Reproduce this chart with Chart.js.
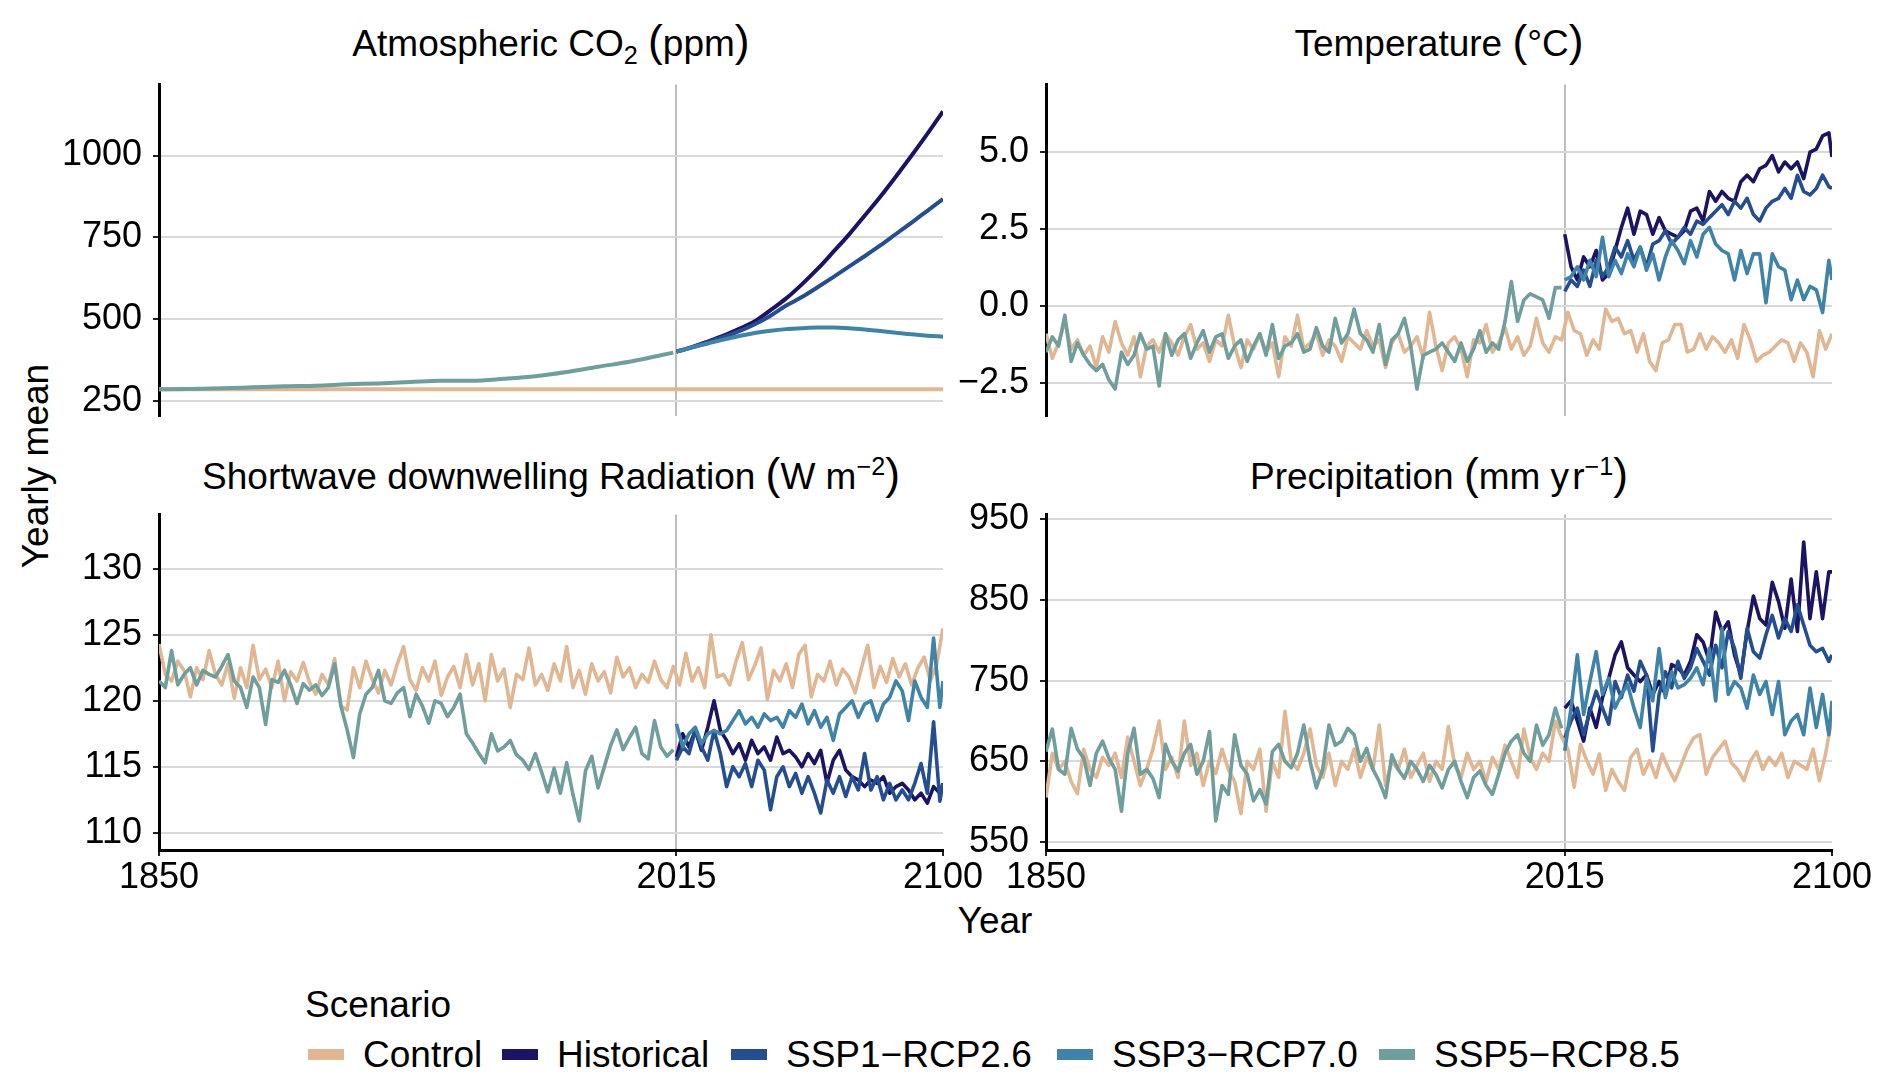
<!DOCTYPE html>
<html>
<head>
<meta charset="utf-8">
<script src="https://cdn.jsdelivr.net/npm/chart.js@4.4.1/dist/chart.umd.min.js"></script>
<style>
  html, body { margin: 0; padding: 0; background: #fff; }
  body { width: 1892px; height: 1087px; position: relative; overflow: hidden;
         font-family: "Liberation Sans", Arial, sans-serif; color: #000; }
  canvas { position: absolute; }
  .txt { position: absolute; white-space: nowrap; font-size: 37px; line-height: 1; }
  .center { transform: translate(-50%, -50%); }
  .par { font-size: 1.2em; }
  sub, sup { font-size: 0.68em; line-height: 0; }
  .key { position: absolute; width: 36px; height: 11px; }
</style>
</head>
<body>

<div class="txt center" style="left:551px; top:41px;">Atmospheric CO<sub>2</sub> <span class="par">(</span>ppm<span class="par">)</span></div>
<div class="txt center" style="left:1439px; top:41px;">Temperature <span class="par">(</span>°C<span class="par">)</span></div>
<div class="txt center" style="left:551px; top:474px;">Shortwave downwelling Radiation <span class="par">(</span>W m<sup>−2</sup><span class="par">)</span></div>
<div class="txt center" style="left:1439px; top:474px;">Precipitation <span class="par">(</span>mm y&#8202;r<sup>−1</sup><span class="par">)</span></div>

<div class="txt center" style="left:35px; top:466px; transform: translate(-50%, -50%) rotate(-90deg);">Yearly mean</div>
<div class="txt center" style="left:995px; top:920px;">Year</div>

<div class="txt" style="left:305px; top:986px;">Scenario</div>
<div id="legend"></div>

<script>
// x grid: yearly means, plotted every second year
function yearsFrom(start, end, step) {
    const out = [];
    for (let y = start; y <= end; y += step) out.push(y);
    return out;
}
const ctrlYears = yearsFrom(1850, 2100, 2);
const histYears = yearsFrom(1850, 2014, 2);
const scenYears = yearsFrom(2015, 2099, 2).concat([2100]);
const xTicks = [1850, 2015, 2100];

// Atmospheric CO2 (ppm)
const co2CtrlYears = [1850, 2100];
const co2Ctrl = [285, 285];
const co2HistYears = [1850, 1860, 1870, 1880, 1890, 1900, 1910, 1920, 1930, 1940, 1950, 1960, 1970, 1980, 1990, 2000, 2010, 2014];
const co2Hist = [285, 286, 288, 291, 294, 296, 300, 303, 307, 311, 311, 317, 325, 338, 354, 369, 389, 397];
const co2ScenYears = [2015, 2020, 2025, 2030, 2035, 2040, 2045, 2050, 2055, 2060, 2065, 2070, 2075, 2080, 2085, 2090, 2095, 2100];
const co2High = [400, 414, 431, 449, 470, 493, 527, 563, 606, 653, 705, 758, 816, 874, 936, 1000, 1066, 1135];
const co2Mid = [400, 413, 428, 445, 463, 484, 510, 541, 567, 597, 628, 660, 692, 725, 760, 795, 831, 867];
const co2Low = [400, 413, 425, 437, 448, 457, 464, 469, 472, 474, 474, 472, 468, 463, 458, 453, 449, 446];

// Temperature (°C)
const tempCtrl = [
    -0.9, -1.7, -1.2, -0.5, -1.4, -1.1, -1.6, -1.3, -2.0, -1.0,
    -1.5, -0.5, -1.2, -1.6, -1.0, -2.3, -1.3, -1.1, -1.5, -0.9,
    -1.2, -1.6, -1.0, -0.6, -1.4, -1.2, -1.8, -1.1, -1.3, -0.3,
    -1.3, -2.0, -1.1, -1.4, -0.9, -1.5, -1.2, -2.3, -1.0, -1.3,
    -0.3, -1.4, -1.2, -0.9, -1.6, -1.1, -1.3, -1.8, -1.0, -1.2,
    -1.4, -0.8, -1.3, -1.1, -2.0, -1.2, -0.9, -1.5, -1.3, -1.0,
    -1.7, -0.2, -1.3, -2.1, -1.2, -1.0, -1.4, -2.3, -1.1, -1.2,
    -0.6, -1.5, -1.2, -0.7, -1.4, -1.0, -1.6, -1.3, -0.4, -1.2,
    -1.5, -1.0, -1.1, -0.2, -0.8, -0.9, -1.6, -1.1, -1.4, -0.1,
    -0.5, -0.4, -0.9, -0.8, -1.5, -0.9, -1.8, -2.1, -1.2, -1.1,
    -0.6, -0.6, -1.5, -1.4, -0.9, -1.4, -1.0, -1.2, -1.5, -1.1,
    -1.7, -0.6, -1.1, -1.8, -1.6, -1.5, -1.3, -1.1, -1.2, -1.8,
    -1.2, -1.5, -2.3, -0.8, -1.4, -0.9
];
const tempHist = [
    -1.5, -1.0, -1.3, -0.3, -1.8, -1.2, -1.6, -1.9, -2.1, -1.9,
    -2.4, -2.7, -1.5, -1.9, -1.6, -0.9, -1.4, -1.3, -2.6, -0.9,
    -1.6, -1.1, -0.9, -1.7, -1.2, -0.8, -1.5, -1.0, -0.9, -1.7,
    -1.3, -1.1, -1.8, -1.3, -0.9, -1.6, -0.6, -1.7, -1.3, -1.2,
    -0.9, -1.5, -1.4, -0.7, -1.3, -1.5, -0.4, -1.2, -0.9, -0.1,
    -0.9, -1.1, -1.5, -0.6, -1.9, -1.1, -0.9, -0.4, -1.3, -2.7,
    -1.6, -1.5, -1.4, -1.2, -1.5, -1.8, -1.2, -1.8, -1.4, -0.8,
    -1.5, -1.2, -1.4, -0.5, 0.8, -0.5, 0.2, 0.4, 0.3, 0.2,
    -0.4, 0.6, 0.6
];
const tempHigh = [
    2.34, 1.28, 0.85, 1.60, 1.28, 1.81, 0.85, 1.06, 1.81, 2.56,
    3.19, 2.34, 3.09, 2.98, 2.34, 2.88, 2.45, 2.34, 2.24, 2.45,
    3.09, 3.19, 2.77, 3.73, 3.41, 3.73, 3.51, 3.41, 4.05, 4.26,
    4.05, 4.47, 4.58, 4.90, 4.37, 4.69, 4.47, 4.69, 4.15, 5.01,
    5.11, 5.54, 5.64, 4.85
];
const tempMid = [
    0.48, 0.85, 0.64, 1.17, 0.64, 1.49, 0.96, 1.28, 1.92, 1.60,
    2.13, 1.49, 1.92, 1.28, 2.02, 2.13, 2.45, 2.02, 2.24, 2.56,
    2.34, 2.77, 2.66, 2.88, 3.09, 3.30, 2.98, 3.41, 3.19, 3.51,
    2.98, 2.77, 3.19, 3.41, 3.51, 3.83, 3.51, 4.26, 3.73, 3.62,
    3.83, 4.26, 3.89, 3.83
];
const tempLow = [
    0.85, 0.96, 1.28, 0.85, 1.49, 0.96, 2.24, 0.96, 1.49, 1.06,
    1.70, 1.28, 1.92, 1.17, 1.70, 0.85, 1.60, 2.13, 1.81, 1.38,
    2.13, 1.60, 2.34, 2.56, 2.02, 1.81, 1.70, 0.85, 1.81, 1.06,
    1.70, 1.70, 0.11, 1.70, 1.28, 1.17, 0.21, 0.85, 0.21, 0.64,
    0.53, -0.21, 1.49, 0.85
];

// Shortwave downwelling radiation (W m-2)
const swCtrl = [
    124.3, 122.0, 121.5, 123.0, 122.3, 120.3, 122.5, 121.6, 123.8, 122.0,
    121.2, 122.8, 120.2, 122.5, 121.0, 124.2, 121.6, 122.4, 121.0, 123.0,
    120.0, 122.2, 121.5, 122.9, 121.4, 120.5, 122.0, 121.2, 123.2, 119.6,
    119.3, 122.5, 121.0, 123.0, 121.6, 120.6, 122.3, 121.2, 122.8, 124.1,
    121.6, 120.8, 122.5, 121.5, 123.0, 120.4, 121.8, 122.6, 121.0, 123.5,
    121.2, 122.8, 120.0, 123.5, 121.5, 122.4, 119.5, 122.0, 121.6, 124.0,
    121.2, 122.0, 120.8, 122.8, 121.5, 124.1, 121.0, 122.3, 120.5, 122.8,
    121.5, 122.2, 120.6, 123.3, 121.8, 122.5, 121.0, 122.0, 121.4, 123.0,
    121.6, 121.0, 122.6, 121.2, 123.6, 121.5, 122.5, 121.0, 125.0, 121.8,
    122.0, 121.2, 123.0, 124.4, 121.6, 122.7, 124.0, 120.1, 122.3, 121.5,
    122.8, 121.0, 123.5, 124.2, 120.3, 122.0, 121.5, 123.0, 121.2, 122.4,
    121.8, 120.6, 122.5, 124.2, 121.0, 122.6, 121.4, 123.2, 121.8, 122.8,
    121.2, 122.5, 123.3, 121.5, 122.8, 125.5
];
const swHist = [
    121.5, 121.0, 123.8, 121.2, 122.0, 122.5, 121.2, 122.3, 122.0, 121.8,
    122.6, 123.5, 121.5, 121.0, 119.5, 121.8, 121.0, 118.2, 121.6, 121.4,
    122.3, 121.2, 119.8, 121.3, 120.8, 121.2, 120.4, 121.0, 122.8, 119.6,
    117.8, 115.7, 119.0, 120.5, 121.0, 122.3, 120.0, 119.8, 120.6, 121.0,
    118.8, 120.5, 119.6, 118.3, 120.0, 119.8, 118.8, 119.5, 120.5, 117.5,
    116.8, 116.0, 115.3, 117.5, 116.2, 116.5, 117.0, 115.9, 115.5, 114.8,
    116.0, 114.6, 113.1, 114.9, 113.0, 115.3, 112.9, 110.9, 114.7, 115.8,
    113.4, 115.0, 116.6, 117.8, 116.3, 117.2, 118.0, 116.0, 115.6, 118.5,
    116.5, 115.8, 116.3
];
const swHigh = [
    115.75, 117.5, 116.5, 117.75, 116.25, 118.0, 120.0, 117.75, 117.0, 116.0,
    116.75, 115.5, 117.0, 116.0, 116.5, 115.5, 117.25, 116.0, 116.25, 115.75,
    115.0, 116.0, 115.25, 116.25, 113.75, 115.5, 116.25, 114.75, 114.25, 114.0,
    113.5, 114.0, 113.75, 114.25, 113.0, 113.5, 113.75, 113.25, 112.5, 113.0,
    112.25, 113.5, 113.0, 113.75
];
const swMid = [
    115.5, 116.5, 116.0, 117.75, 116.5, 115.5, 117.75, 116.0, 113.5, 115.0,
    114.25, 115.25, 113.5, 115.5, 114.75, 111.75, 114.25, 115.0, 113.5, 114.5,
    113.0, 114.25, 113.0, 111.5, 114.0, 113.0, 114.25, 112.75, 114.25, 113.25,
    116.0, 113.25, 114.25, 112.5, 113.75, 112.5, 113.25, 112.5, 113.75, 115.25,
    113.0, 118.4, 112.4, 113.75
];
const swLow = [
    118.25, 116.5, 117.5, 118.0, 116.75, 117.5, 117.75, 117.5, 117.75, 118.5,
    119.25, 118.25, 118.75, 118.0, 119.0, 118.5, 118.75, 118.0, 119.25, 118.75,
    119.75, 118.25, 119.25, 118.0, 118.75, 117.0, 119.0, 119.5, 120.0, 118.75,
    119.75, 120.0, 118.5, 119.75, 120.25, 121.5, 120.75, 118.5, 121.5, 120.25,
    119.5, 124.75, 119.5, 121.5
];

// Precipitation (mm yr-1)
const prCtrl = [
    605, 660, 640, 650, 625, 610, 665, 640, 630, 655,
    645, 660, 630, 680, 650, 620, 640, 665, 700, 640,
    655, 630, 700, 645, 660, 620, 650, 635, 665, 640,
    625, 585, 650, 640, 665, 588, 650, 630, 712, 650,
    640, 660, 690, 645, 630, 660, 620, 650, 640, 665,
    630, 655, 640, 695, 620, 650, 640, 665, 630, 645,
    660, 625, 650, 640, 693, 645, 630, 660, 640, 650,
    625, 655, 640, 670, 650, 630, 690, 655, 640, 660,
    650, 700, 680, 665, 618, 671, 651, 634, 659, 614,
    640, 625, 614, 655, 665, 634, 651, 630, 659, 641,
    626, 645, 665, 679, 683, 634, 655, 665, 675, 648,
    640, 626, 650, 662, 640, 655, 645, 660, 630, 650,
    645, 640, 665, 626, 660, 704
];
const prHist = [
    662, 690, 640, 634, 691, 665, 654, 620, 660, 675,
    654, 640, 588, 660, 691, 634, 640, 629, 605, 671,
    650, 638, 660, 671, 634, 650, 687, 576, 620, 609,
    683, 645, 634, 601, 615, 597, 662, 671, 650, 642,
    660, 695, 650, 617, 640, 695, 670, 675, 691, 683,
    650, 666, 640, 625, 605, 658, 640, 629, 650, 640,
    625, 645, 634, 617, 640, 650, 625, 605, 630, 638,
    620, 609, 634, 660, 675, 683, 660, 650, 695, 670,
    683, 716, 691
];
const prHigh = [
    716, 725, 700, 675, 716, 692, 729, 753, 782, 798,
    766, 757, 749, 757, 733, 749, 733, 770, 766, 757,
    774, 807, 798, 774, 835, 811, 823, 782, 757, 811,
    855, 827, 819, 872, 848, 815, 876, 811, 922, 827,
    885, 827, 885, 885
];
const prMid = [
    679, 700, 716, 683, 712, 737, 716, 696, 749, 729,
    757, 737, 774, 757, 663, 733, 761, 741, 774, 753,
    766, 790, 774, 757, 794, 766, 811, 790, 753, 815,
    786, 778, 807, 831, 803, 827, 811, 844, 819, 794,
    786, 790, 774, 782
];
const prLow = [
    663, 716, 782, 708, 749, 786, 733, 753, 716, 733,
    745, 716, 692, 753, 725, 790, 729, 761, 741, 745,
    753, 766, 745, 790, 725, 815, 733, 749, 741, 716,
    757, 733, 749, 708, 749, 683, 700, 708, 683, 741,
    692, 733, 683, 725
];

// legend (as in the figure)
const scenarioNames = ['Control', 'Historical', 'SSP1\u2212RCP2.6', 'SSP3\u2212RCP7.0', 'SSP5\u2212RCP8.5'];
const scenarioColors = ['#E0B792', '#1B1464', '#254E91', '#3F83A9', '#6F9E9C'];
const legendKeyX = [308, 502, 731, 1057, 1379];

// line colours used in the panels
const colCtrl = '#E0B792';
const colHist = '#6F9E9C';
const colHigh = '#1B1464';
const colMid = '#254E91';
const colLow = '#3F83A9';

const FONT = '"Liberation Sans", Arial, sans-serif';
Chart.defaults.font.family = FONT;
Chart.defaults.color = '#000';

function toPoints(years, values) {
    return values.map((v, i) => ({ x: years[i], y: v }));
}

function line(years, values, color, smooth) {
    return {
        data: toPoints(years, values),
        borderColor: color,
        borderWidth: smooth ? 4 : 3.6,
        borderJoinStyle: 'round',
        pointRadius: 0,
        fill: false,
        cubicInterpolationMode: smooth ? 'monotone' : 'default',
        tension: 0
    };
}

// one facet = one chart; box is the plot area in page pixels
const Y_AXIS_W = 110;
const PAD_TOP = 30;
const PAD_RIGHT = 45;
const X_AXIS_H = 60;

function makePanel(box, yMin, yMax, yTicks, yFmt, datasets, showX) {
    const canvas = document.createElement('canvas');
    const w = Y_AXIS_W + (box.right - box.left) + PAD_RIGHT;
    const h = PAD_TOP + (box.bottom - box.top) + (showX ? X_AXIS_H : 30);
    canvas.width = w;
    canvas.height = h;
    canvas.style.left = (box.left - Y_AXIS_W) + 'px';
    canvas.style.top = (box.top - PAD_TOP) + 'px';
    document.body.appendChild(canvas);

    return new Chart(canvas, {
        type: 'line',
        data: { datasets: datasets },
        options: {
            responsive: false,
            animation: false,
            devicePixelRatio: 1,
            layout: { padding: { top: PAD_TOP, right: PAD_RIGHT, bottom: showX ? 0 : 30, left: 0 } },
            plugins: { legend: { display: false }, tooltip: { enabled: false } },
            scales: {
                x: {
                    type: 'linear',
                    min: 1850,
                    max: 2100,
                    afterBuildTicks: s => { s.ticks = xTicks.map(v => ({ value: v })); },
                    afterFit: s => { s.height = showX ? X_AXIS_H : 0; },
                    grid: {
                        color: ctx => (ctx.tick && ctx.tick.value === 2015) ? '#BDBDBD' : 'rgba(0,0,0,0)',
                        lineWidth: 2,
                        drawTicks: showX,
                        tickLength: 6,
                        tickColor: '#222',
                        tickWidth: 2
                    },
                    border: { display: showX, color: '#000', width: 3 },
                    ticks: {
                        display: showX,
                        padding: 0,
                        maxRotation: 0,
                        autoSkip: false,
                        color: '#000',
                        font: { size: 36 },
                        callback: v => String(v)
                    }
                },
                y: {
                    min: yMin,
                    max: yMax,
                    afterBuildTicks: s => { s.ticks = yTicks.map(v => ({ value: v })); },
                    afterFit: s => { s.width = Y_AXIS_W; },
                    grid: { color: '#D9D9D9', lineWidth: 2, tickLength: 6, tickColor: '#222', tickWidth: 2 },
                    border: { color: '#000', width: 3 },
                    ticks: { padding: 11, color: '#000', font: { size: 36 }, callback: yFmt }
                }
            }
        }
    });
}

const intFmt = v => String(v);
const oneDec = v => (v < 0 ? '\u2212' : '') + Math.abs(v).toFixed(1);

// top left: CO2
makePanel({ left: 159, top: 82, right: 943, bottom: 419 }, 202, 1217, [250, 500, 750, 1000], intFmt, [
    line(co2ScenYears, co2Low, colLow, true),
    line(co2ScenYears, co2Mid, colMid, true),
    line(co2ScenYears, co2High, colHigh, true),
    line(co2HistYears, co2Hist, colHist, true),
    line(co2CtrlYears, co2Ctrl, colCtrl, true)
], false);

// top right: temperature
makePanel({ left: 1046, top: 82, right: 1832, bottom: 419 }, -3.59, 7.21, [-2.5, 0, 2.5, 5], oneDec, [
    line(scenYears, tempLow, colLow),
    line(scenYears, tempMid, colMid),
    line(scenYears, tempHigh, colHigh),
    line(histYears, tempHist, colHist),
    line(ctrlYears, tempCtrl, colCtrl)
], false);

// bottom left: shortwave radiation
makePanel({ left: 159, top: 512, right: 943, bottom: 850 }, 108.7, 134.1, [110, 115, 120, 125, 130], intFmt, [
    line(scenYears, swLow, colLow),
    line(scenYears, swMid, colMid),
    line(scenYears, swHigh, colHigh),
    line(histYears, swHist, colHist),
    line(ctrlYears, swCtrl, colCtrl)
], true);

// bottom right: precipitation
makePanel({ left: 1046, top: 512, right: 1832, bottom: 850 }, 540, 956, [550, 650, 750, 850, 950], intFmt, [
    line(scenYears, prLow, colLow),
    line(scenYears, prMid, colMid),
    line(scenYears, prHigh, colHigh),
    line(histYears, prHist, colHist),
    line(ctrlYears, prCtrl, colCtrl)
], true);

// legend row
const legendEl = document.getElementById('legend');
scenarioNames.forEach((name, i) => {
    const key = document.createElement('div');
    key.className = 'key';
    key.style.left = legendKeyX[i] + 'px';
    key.style.top = '1049px';
    key.style.background = scenarioColors[i];
    legendEl.appendChild(key);

    const label = document.createElement('div');
    label.className = 'txt';
    label.style.left = (legendKeyX[i] + 55) + 'px';
    label.style.top = '1036px';
    label.textContent = name;
    legendEl.appendChild(label);
});
</script>
</body>
</html>
